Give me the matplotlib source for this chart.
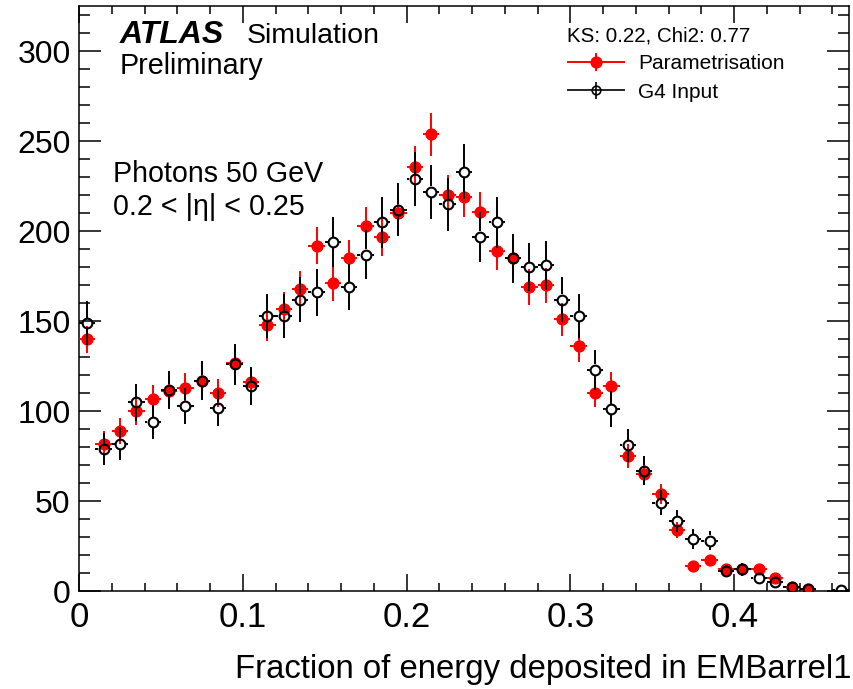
import numpy as np
import matplotlib
matplotlib.use('Agg')
import matplotlib.pyplot as plt
from matplotlib.ticker import MultipleLocator, FuncFormatter
from matplotlib.legend_handler import HandlerErrorbar

plt.rcParams['font.family'] = ['Liberation Sans', 'DejaVu Sans']

# Binning: 47 bins of width 0.01 between 0 and 0.47
bin_width = 0.01
bin_centers = np.arange(47) * bin_width + bin_width / 2

# Parametrisation (red, filled)
param = [140, 82, 89, 100, 107, 111, 113, 117, 110, 127,
         116, 148, 157, 168, 192, 171, 185, 203, 197, 210,
         236, 254, 220, 219, 211, 189, 185, 169, 170, 151,
         136, 110, 114, 75, 65, 54, 34, 14, 17, 12,
         12, 12, 7.5, 2, 1, np.nan, np.nan]
param_err = [7.5, 6.8, 7.1, 7.5, 7.8, 7.9, 8.0, 8.1, 7.9, 8.5,
             8.1, 9.1, 9.4, 9.7, 10.4, 9.8, 10.2, 10.7, 10.5, 10.9,
             11.5, 11.9, 11.1, 11.1, 10.9, 10.3, 10.2, 9.8, 9.8, 9.2,
             8.7, 7.9, 8.0, 6.5, 6.0, 5.5, 4.4, 2.8, 3.1, 2.6,
             2.6, 2.6, 2.1, 1.1, 0.8, 0, 0]

# G4 input (black, open)
g4 = [149, 79, 82, 105, 94, 112, 103, 117, 102, 126,
      114, 153, 153, 162, 166, 194, 169, 187, 205, 212,
      229, 222, 215, 233, 197, 205, 185, 180, 181, 162,
      153, 123, 101, 81, 67, 49, 39, 29, 28, 11,
      12, 7, 5, 2.5, 1, np.nan, 0.6]
g4_err = [12.2, 8.9, 9.1, 10.2, 9.7, 10.6, 10.1, 10.8, 10.1, 11.2,
          10.7, 12.4, 12.4, 12.7, 12.9, 13.9, 13.0, 13.7, 14.3, 14.6,
          15.1, 14.9, 14.7, 15.3, 14.0, 14.3, 13.6, 13.4, 13.5, 12.7,
          12.4, 11.1, 10.0, 9.0, 8.2, 7.0, 6.2, 5.4, 5.3, 3.3,
          3.5, 2.6, 2.2, 1.6, 1.0, 0, 0.8]

xmax = 0.47
ymax = 325

fig = plt.figure(figsize=(8.54, 6.89), dpi=100)
ax = fig.add_axes([0.0925, 0.1422, 0.9015, 0.8484])
ax.set_xlim(0, xmax)
ax.set_ylim(0, ymax)

# Parametrisation histogram
param_plot = ax.errorbar(bin_centers, param, xerr=bin_width / 2, yerr=param_err,
                         fmt='o', color='red', ms=7.8, elinewidth=1.4,
                         capsize=0, zorder=3)

# G4 histogram: open circles, error bars stop at the marker edge like ROOT
g4 = np.array(g4, dtype=float)
g4_err = np.array(g4_err)
fig_w_px, fig_h_px = fig.get_size_inches() * fig.dpi
ax_pos = ax.get_position()
px_per_y = ax_pos.height * fig_h_px / ymax
px_per_x = ax_pos.width * fig_w_px / xmax
radius_px = 5.3
gap_y = radius_px / px_per_y
gap_x = radius_px / px_per_x
ok = ~np.isnan(g4)
xc, yc, ye = bin_centers[ok], g4[ok], g4_err[ok]
has_bar = ye > gap_y
ax.vlines(xc[has_bar], yc[has_bar] + gap_y, yc[has_bar] + ye[has_bar],
          color='black', lw=1.4, zorder=4)
ax.vlines(xc[has_bar], np.maximum(yc[has_bar] - ye[has_bar], 0), yc[has_bar] - gap_y,
          color='black', lw=1.4, zorder=4)
ax.hlines(yc, xc - bin_width / 2, xc - gap_x, color='black', lw=1.4, zorder=4)
ax.hlines(yc, xc + gap_x, xc + bin_width / 2, color='black', lw=1.4, zorder=4)
ax.plot(xc, yc, 'o', mfc='none', mec='black', ms=7.0, mew=1.5, zorder=5)

# proxy for the legend entry
g4_proxy = ax.errorbar([np.nan], [np.nan], xerr=[1], yerr=[1], fmt='o',
                       color='black', mfc='none', ms=6.2, mew=1.2,
                       elinewidth=1.2, capsize=0)

# axis styling (ROOT look: ticks inside on all four sides)
ax.xaxis.set_major_locator(MultipleLocator(0.1))
ax.xaxis.set_minor_locator(MultipleLocator(0.02))
ax.yaxis.set_major_locator(MultipleLocator(50))
ax.yaxis.set_minor_locator(MultipleLocator(10))
ax.xaxis.set_major_formatter(FuncFormatter(lambda v, p: '0' if abs(v) < 1e-9 else f'{v:.1f}'))
ax.yaxis.set_major_formatter(FuncFormatter(lambda v, p: f'{v:.0f}'))
ax.tick_params(which='both', direction='in', top=True, right=True, width=1.1)
ax.tick_params(axis='x', which='major', length=12, labelsize=25, pad=7)
ax.tick_params(axis='x', which='minor', length=6)
ax.tick_params(axis='y', which='major', length=16, labelsize=23, pad=6)
ax.tick_params(axis='y', which='minor', length=8)
for sp in ax.spines.values():
    sp.set_linewidth(1.1)

fig.text(0.997, 1 - 678 / 689, 'Fraction of energy deposited in EMBarrel1',
         ha='right', va='baseline', fontsize=23.7)

# labels
fig.text(120 / 854, 1 - 43 / 689, 'ATLAS', fontsize=23, fontweight='bold',
         fontstyle='italic', va='baseline')
fig.text(247 / 854, 1 - 43 / 689, 'Simulation', fontsize=20.5, va='baseline')
fig.text(120 / 854, 1 - 74 / 689, 'Preliminary', fontsize=20.7, va='baseline')
fig.text(113 / 854, 1 - 182 / 689, 'Photons 50 GeV', fontsize=20.6, va='baseline')
fig.text(113 / 854, 1 - 215 / 689, '0.2 < |η| < 0.25', fontsize=20.6, va='baseline')

leg = ax.legend([param_plot, g4_proxy], ['Parametrisation', 'G4 Input'],
                title='KS: 0.22, Chi2: 0.77', title_fontsize=14.8, fontsize=15,
                alignment='left', loc='upper left',
                bbox_to_anchor=(567 / 854, 1 - 26 / 689), bbox_transform=fig.transFigure,
                frameon=False, borderpad=0, borderaxespad=0,
                handlelength=2.8, handletextpad=0.6, labelspacing=0.45,
                handler_map={type(param_plot): HandlerErrorbar(xerr_size=1.4, yerr_size=0.42)})

fig.savefig('out.png', dpi=100)
